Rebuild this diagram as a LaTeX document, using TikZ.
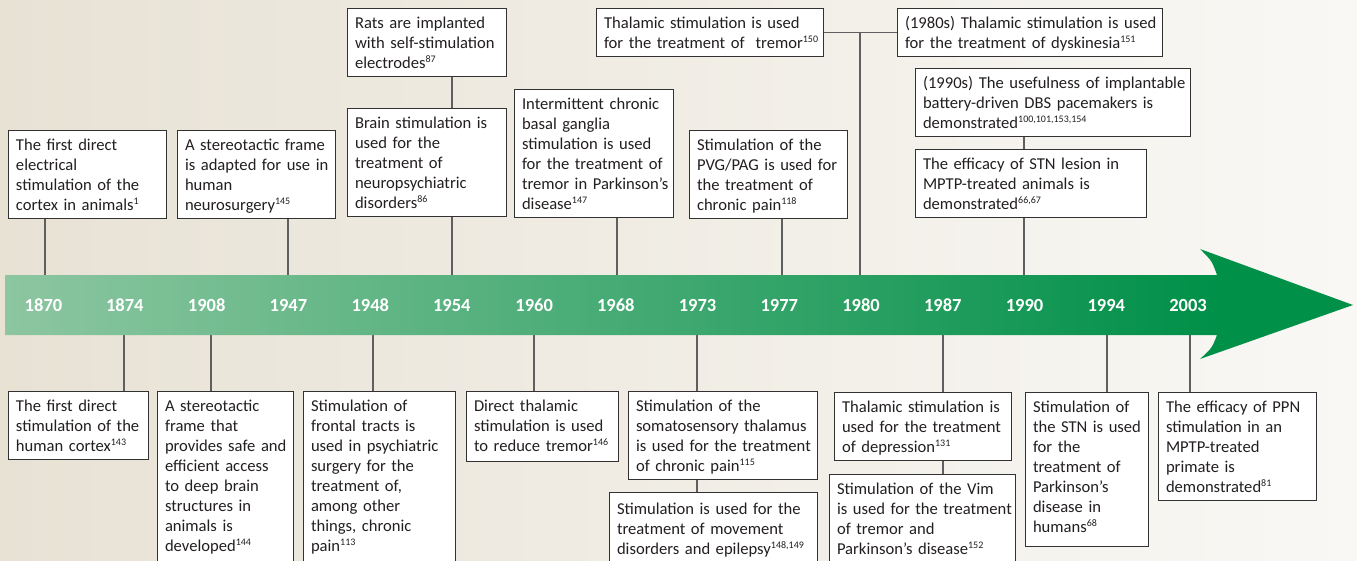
\documentclass[tikz,border=0pt]{standalone}
\usepackage{fontspec}
\setmainfont{Carlito}
\definecolor{bgL}{RGB}{232,226,213}
\definecolor{bgR}{RGB}{249,248,245}
\definecolor{barL}{RGB}{141,198,161}
\definecolor{barR}{RGB}{0,144,72}
\definecolor{txt}{RGB}{35,31,32}
\definecolor{edgec}{RGB}{50,50,50}
\definecolor{connc}{RGB}{95,95,95}
\pgfdeclarehorizontalshading{barshade}{100bp}{color(0bp)=(barL); color(25bp)=(barL); color(70bp)=(barR); color(100bp)=(barR)}
\newcommand\topst{\rule{0pt}{15.5pt}}
\newcommand\botst{\rule[-3.5pt]{0pt}{3.5pt}}
\newcommand\rf[1]{\raisebox{6pt}{\fontsize{10}{10}\selectfont #1}}
\newcommand\lin[1]{\mbox{#1}}
\tikzset{
  box/.style={draw=edgec, line width=1pt, fill=white, text=txt, anchor=north west,
    align=left, inner xsep=7.5pt, inner ysep=4.5pt, font=\fontsize{16.6}{20}\selectfont},
  yr/.style={text=white, inner sep=0pt, font=\fontsize{18.5}{18.5}\selectfont\bfseries},
  conn/.style={draw=connc, line width=1.2pt}
}
\begin{document}
\begin{tikzpicture}[x=1pt,y=-1pt]
\useasboundingbox (0,0) rectangle (1357,560);
\clip (0,0) rectangle (1357,560);
\shade[left color=bgL, right color=bgR] (0,0) rectangle (1357,560);

% bar coordinates
\coordinate (t1870) at (45,275);
\coordinate (b1874) at (124,335);
\coordinate (b1908) at (211,335);
\coordinate (t1947) at (288,275);
\coordinate (b1948) at (373,335);
\coordinate (t1954) at (452,275);
\coordinate (b1960) at (534,335);
\coordinate (t1968) at (617,275);
\coordinate (b1973) at (697,335);
\coordinate (t1977) at (782,275);
\coordinate (t1980) at (860,275);
\coordinate (b1987) at (943,335);
\coordinate (t1990) at (1024,275);
\coordinate (b1994) at (1107,335);
\coordinate (b2003) at (1190,335);

% top boxes
\node[box, text width=143pt] (T1) at (8,130) {\topst\lin{The first direct}\\\lin{electrical}\\\lin{stimulation of the}\\\lin{cortex in animals\rf{1}}\botst};
\node[box, text width=143pt] (T2) at (177,130) {\topst\lin{A stereotactic frame}\\\lin{is adapted for use in}\\\lin{human}\\\lin{neurosurgery\rf{145}}\botst};
\node[box, text width=144pt] (T3) at (347,8) {\topst\lin{Rats are implanted}\\\lin{with self-stimulation}\\\lin{electrodes\rf{87}}\botst};
\node[box, text width=144pt] (T4) at (347,108) {\topst\lin{Brain stimulation is}\\\lin{used for the}\\\lin{treatment of}\\\lin{neuropsychiatric}\\\lin{disorders\rf{86}}\botst};
\node[box, text width=144pt] (T5) at (514,89) {\topst\lin{Intermittent chronic}\\\lin{basal ganglia}\\\lin{stimulation is used}\\\lin{for the treatment of}\\\lin{tremor in Parkinson’s}\\\lin{disease\rf{147}}\botst};
\node[box, text width=212pt] (T6) at (596,8) {\topst\lin{Thalamic stimulation is used}\\\lin{for the treatment of\ \ tremor\rf{150}}\botst};
\node[box, text width=143pt] (T7) at (689,130) {\topst\lin{Stimulation of the}\\\lin{PVG/PAG is used for}\\\lin{the treatment of}\\\lin{chronic pain\rf{118}}\botst};
\node[box, text width=250pt] (T8) at (897,8) {\topst\lin{(1980s) Thalamic stimulation is used}\\\lin{for the treatment of dyskinesia\rf{151}}\botst};
\node[box, text width=260pt] (T9) at (915,68) {\topst\lin{(1990s) The usefulness of implantable}\\\lin{battery-driven DBS pacemakers is}\\\lin{demonstrated\rf{100,101,153,154}}\botst};
\node[box, text width=216pt] (T10) at (915,149) {\topst\lin{The efficacy of STN lesion in}\\\lin{MPTP-treated animals is}\\\lin{demonstrated\rf{66,67}}\botst};

% bottom boxes
\node[box, text width=125pt] (B1) at (8,391) {\topst\lin{The first direct}\\\lin{stimulation of the}\\\lin{human cortex\rf{143}}\botst};
\node[box, text width=121pt] (B2) at (157,391) {\topst\lin{A stereotactic}\\\lin{frame that}\\\lin{provides safe and}\\\lin{efficient access}\\\lin{to deep brain}\\\lin{structures in}\\\lin{animals is}\\\lin{developed\rf{144}}\rule[-20pt]{0pt}{20pt}};
\node[box, text width=137pt] (B3) at (303,391) {\topst\lin{Stimulation of}\\\lin{frontal tracts is}\\\lin{used in psychiatric}\\\lin{surgery for the}\\\lin{treatment of,}\\\lin{among other}\\\lin{things, chronic}\\\lin{pain\rf{113}}\rule[-20pt]{0pt}{20pt}};
\node[box, text width=137pt] (B4) at (466,391) {\topst\lin{Direct thalamic}\\\lin{stimulation is used}\\\lin{to reduce tremor\rf{146}}\rule[-5pt]{0pt}{5pt}};
\node[box, text width=174pt] (B5) at (628,391) {\topst\lin{Stimulation of the}\\\lin{somatosensory thalamus}\\\lin{is used for the treatment}\\\lin{of chronic pain\rf{115}}\botst};
\node[box, text width=193pt] (B6) at (609,492) {\rule{0pt}{17pt}\lin{Stimulation is used for the}\\\lin{treatment of movement}\\\lin{disorders and epilepsy\rf{148,149}}\rule[-20pt]{0pt}{20pt}};
\node[box, text width=162pt] (B7) at (834,392) {\topst\lin{Thalamic stimulation is}\\\lin{used for the treatment}\\\lin{of depression\rf{131}}\botst};
\node[box, text width=171pt] (B8) at (829,474) {\topst\lin{Stimulation of the Vim}\\\lin{is used for the treatment}\\\lin{of tremor and}\\\lin{Parkinson’s disease\rf{152}}\rule[-20pt]{0pt}{20pt}};
\node[box, text width=108pt] (B9) at (1025,392) {\topst\lin{Stimulation of}\\\lin{the STN is used}\\\lin{for the}\\\lin{treatment of}\\\lin{Parkinson’s}\\\lin{disease in}\\\lin{humans\rf{68}}\rule[-9.5pt]{0pt}{9.5pt}};
\node[box, text width=143pt] (B10) at (1158,392) {\topst\lin{The efficacy of PPN}\\\lin{stimulation in an}\\\lin{MPTP-treated}\\\lin{primate is}\\\lin{demonstrated\rf{81}}\botst};

% connectors
\draw[conn] (t1870) -- (t1870 |- T1.south);
\draw[conn] (t1947) -- (t1947 |- T2.south);
\draw[conn] (t1954) -- (t1954 |- T4.south);
\draw[conn] (T4.north -| t1954) -- (T3.south -| t1954);
\draw[conn] (t1968) -- (t1968 |- T5.south);
\draw[conn] (t1977) -- (t1977 |- T7.south);
\draw[conn] (T6.east) -- (T8.west);
\draw[conn] (t1980) -- (t1980 |- T6.east);
\draw[conn] (t1990) -- (t1990 |- T10.south);
\draw[conn] (T10.north -| t1990) -- (T9.south -| t1990);
\draw[conn] (b1874) -- (b1874 |- B1.north);
\draw[conn] (b1908) -- (b1908 |- B2.north);
\draw[conn] (b1948) -- (b1948 |- B3.north);
\draw[conn] (b1960) -- (b1960 |- B4.north);
\draw[conn] (b1973) -- (b1973 |- B5.north);
\draw[conn] (B5.south -| b1973) -- (B6.north -| b1973);
\draw[conn] (b1987) -- (b1987 |- B7.north);
\draw[conn] (B7.south -| b1987) -- (B8.north -| b1987);
\draw[conn] (b1994) -- (b1994 |- B9.north);
\draw[conn] (b2003) -- (b2003 |- B10.north);

% timeline arrow
\shade[shading=barshade] (5,275) -- (1217,275) .. controls (1212,261) .. (1200,249)
  -- (1353,305) -- (1200,359) .. controls (1212,348) .. (1217,335) -- (5,335) -- cycle;

% years
\node[yr] (y1870) at (43.5,305) {1870};
\node[yr] (y1874) at (124.8,305) {1874};
\node[yr] (y1908) at (206.7,305) {1908};
\node[yr] (y1947) at (288.4,305) {1947};
\node[yr] (y1948) at (370.3,305) {1948};
\node[yr] (y1954) at (451.8,305) {1954};
\node[yr] (y1960) at (534.2,305) {1960};
\node[yr] (y1968) at (615.8,305) {1968};
\node[yr] (y1973) at (697.5,305) {1973};
\node[yr] (y1977) at (779.3,305) {1977};
\node[yr] (y1980) at (861,305) {1980};
\node[yr] (y1987) at (942.8,305) {1987};
\node[yr] (y1990) at (1024.5,305) {1990};
\node[yr] (y1994) at (1106.3,305) {1994};
\node[yr] (y2003) at (1188,305) {2003};
\end{tikzpicture}
\end{document}
